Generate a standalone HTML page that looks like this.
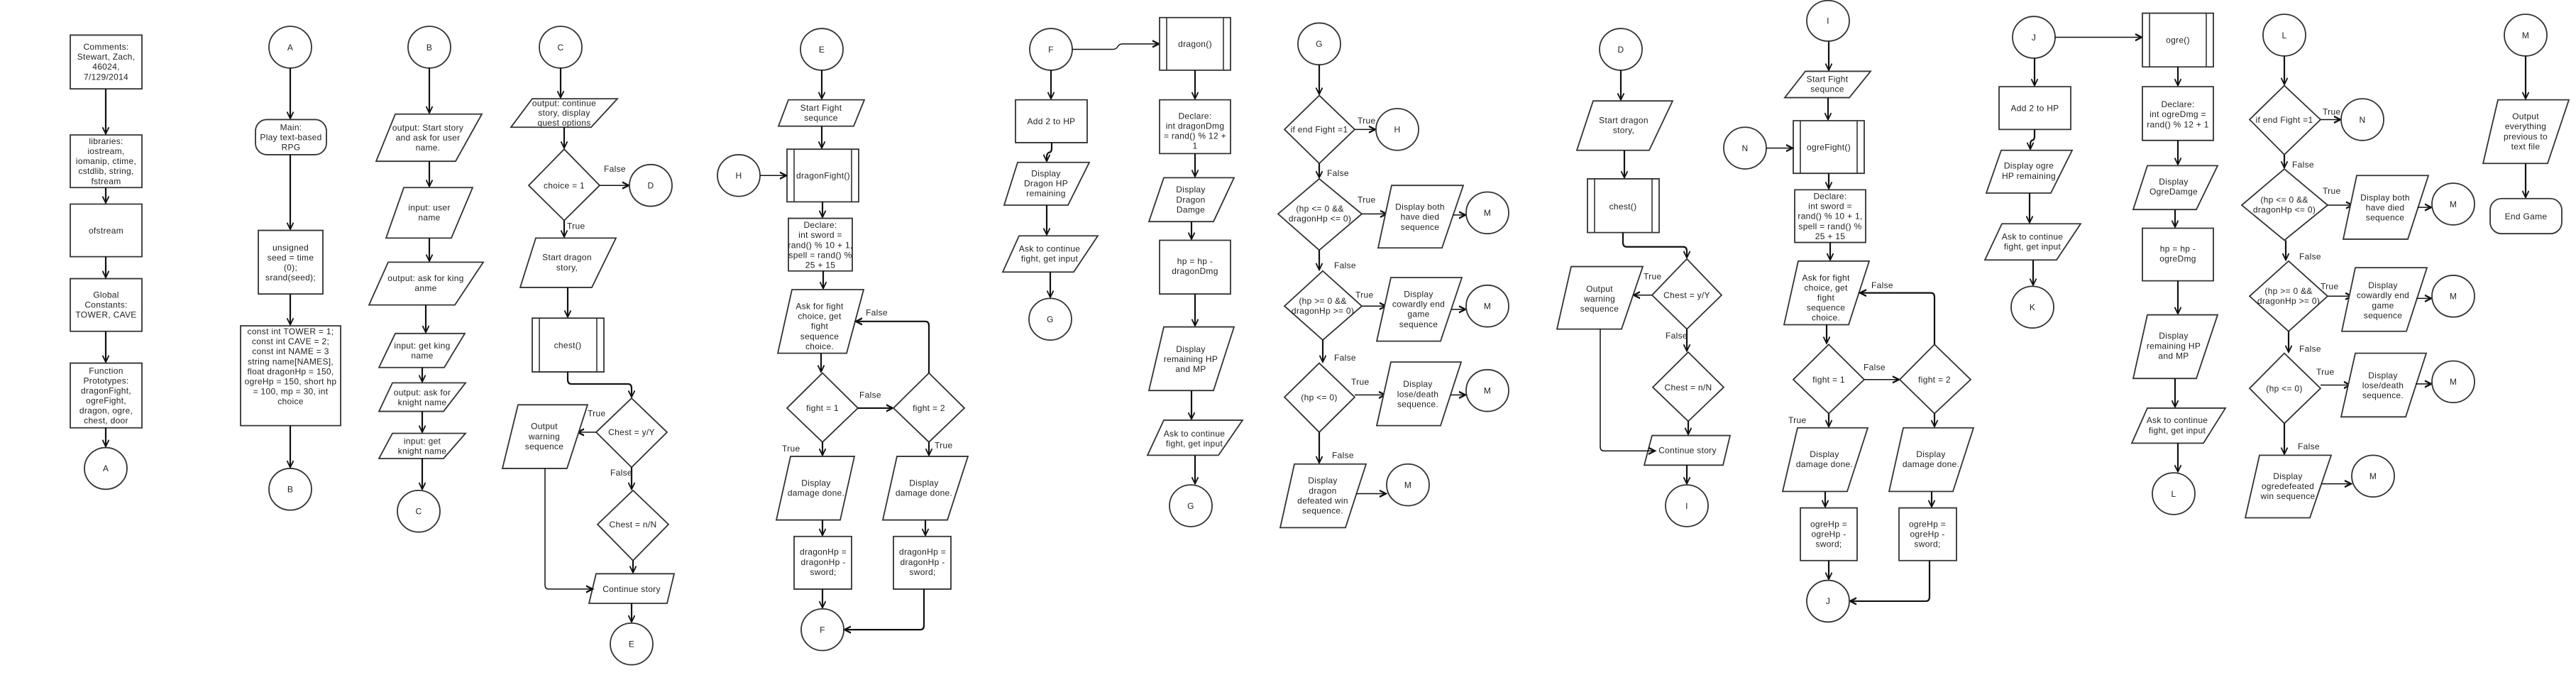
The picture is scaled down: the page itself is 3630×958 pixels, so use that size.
<!DOCTYPE html>
<html><head><meta charset="utf-8"><style>
html,body{margin:0;padding:0;background:#fff;}
svg{display:block;}
text{font-family:"Liberation Sans",Arial,sans-serif;font-size:12px;letter-spacing:0.3px;fill:#222;text-anchor:middle;}
text.l{text-anchor:start;}
.s{fill:#fff;stroke:#333;stroke-width:1.8;vector-effect:non-scaling-stroke;}
.a{fill:none;stroke:#111;stroke-width:2.2;marker-end:url(#av);vector-effect:non-scaling-stroke;}
.h{fill:none;stroke:#111;stroke-width:2.2;marker-end:url(#ah);vector-effect:non-scaling-stroke;}
.b{fill:none;stroke:#111;stroke-width:1.5;marker-end:url(#ah);vector-effect:non-scaling-stroke;}
.n{fill:none;stroke:#333;stroke-width:1.6;vector-effect:non-scaling-stroke;}
.m{fill:none;stroke:#111;stroke-width:1.6;vector-effect:non-scaling-stroke;}
</style></head><body>
<svg width="3630" height="958" viewBox="0 0 3630 958" xmlns="http://www.w3.org/2000/svg">
<defs>
<marker id="av" markerUnits="userSpaceOnUse" markerWidth="20" markerHeight="20" refX="6" refY="0" orient="auto" overflow="visible"><path class="m" d="M0,-4.5 L6,0 L0,4.5"/></marker>
<marker id="ah" markerUnits="userSpaceOnUse" markerWidth="20" markerHeight="20" refX="9" refY="0" orient="auto" overflow="visible"><path class="m" d="M0,-2.9 L9,0 L0,2.9"/></marker>
</defs>
<g transform="scale(1,1.5455)">
<!-- Column 1 -->
<rect class="s" x="99" y="32" width="101" height="49"/>
<rect class="s" x="99" y="123" width="101" height="48"/>
<rect class="s" x="99" y="186" width="101" height="48"/>
<rect class="s" x="99" y="254" width="101" height="48"/>
<rect class="s" x="99" y="331" width="101" height="59"/>
<ellipse class="s" cx="149" cy="427" rx="30" ry="19"/>
<path class="a" d="M149,81 V122"/><path class="a" d="M149,171 V185"/><path class="a" d="M149,234 V253"/><path class="a" d="M149,302 V330"/><path class="a" d="M149,390 V407"/>
<!-- Column 2 -->
<ellipse class="s" cx="409" cy="43" rx="30" ry="19"/>
<path class="a" d="M409,62 V108"/>
<rect class="s" x="360" y="109" width="100" height="32" rx="16" ry="10.5"/>
<path class="a" d="M409,141 V209"/>
<rect class="s" x="364" y="210" width="91" height="58"/>
<path class="a" d="M409,268 V296"/>
<rect class="s" x="339" y="297" width="141" height="91"/>
<path class="a" d="M409,388 V426"/>
<ellipse class="s" cx="409" cy="446" rx="30" ry="19"/>
<!-- Column 3 -->
<ellipse class="s" cx="605" cy="43" rx="30" ry="19"/>
<path class="a" d="M605,62 V103"/>
<polygon class="s" points="557,104 679,104 642,147 530,147"/>
<path class="a" d="M605,147 V170"/>
<polygon class="s" points="569,171 666,171 636,217 544,217"/>
<path class="a" d="M605,217 V238"/>
<polygon class="s" points="547,239 681,239 641,278 520,278"/>
<path class="a" d="M600,278 V303"/>
<polygon class="s" points="557,304 655,304 626,335 534,335"/>
<path class="a" d="M595,335 V348"/>
<polygon class="s" points="553,349 656,349 625,375 534,375"/>
<path class="a" d="M595,375 V394"/>
<polygon class="s" points="553,395 656,395 625,418 534,418"/>
<path class="a" d="M595,418 V446"/>
<ellipse class="s" cx="590" cy="466" rx="30" ry="19"/>
<!-- Column 4 -->
<ellipse class="s" cx="790" cy="43" rx="30" ry="19"/>
<path class="a" d="M790,62 V89"/>
<polygon class="s" points="750,90 870,90 833,116 720,116"/>
<path class="a" d="M795,116 V135"/>
<polygon class="s" points="795,136 845,169 795,201 745,169"/>
<path class="b" d="M845,169 H886"/>
<ellipse class="s" cx="917" cy="169" rx="30" ry="19"/>
<path class="a" d="M795,201 V216"/>
<polygon class="s" points="755,217 868,217 834,262 733,262"/>
<path class="a" d="M800,262 V289"/>
<rect class="s" x="750" y="290" width="101" height="49"/><path class="n" d="M760,290 V339 M841,290 V339"/>
<path class="a" d="M800,339 V346 Q800,350 805,350 H885 Q890,350 890,354 V362"/>
<polygon class="s" points="890,363 940,394 890,426 840,394"/>
<path class="b" d="M840,394 H814"/>
<polygon class="s" points="730,369 828,369 799,427 708,427"/>
<path class="a" d="M890,426 V446"/>
<polygon class="s" points="892,447 942,478 892,511 842,478"/>
<path class="a" d="M892,511 V522"/>
<polygon class="s" points="840,523 950,523 940,550 830,550"/>
<path class="b" d="M768,427 V533 Q768,537 773,537 H835"/>
<path class="a" d="M890,550 V567"/>
<ellipse class="s" cx="890" cy="587" rx="30" ry="19"/>
<!-- Column 5 -->
<ellipse class="s" cx="1158" cy="45" rx="30" ry="19"/>
<path class="a" d="M1158,64 V90"/>
<polygon class="s" points="1111,91 1218,91 1203,115 1097,115"/>
<path class="a" d="M1158,115 V135"/>
<rect class="s" x="1109" y="136" width="101" height="48"/><path class="n" d="M1119,136 V184 M1200,136 V184"/>
<ellipse class="s" cx="1041" cy="160" rx="30" ry="19"/>
<path class="b" d="M1071,160 H1108"/>
<path class="a" d="M1159,184 V198"/>
<rect class="s" x="1111" y="199" width="90" height="48"/>
<path class="a" d="M1160,247 V263"/>
<polygon class="s" points="1116,264 1217,264 1193,322 1096,322"/>
<path class="a" d="M1157,322 V339"/>
<polygon class="s" points="1159,340 1209,372 1159,403 1109,372"/>
<path class="h" d="M1209,372 H1258"/>
<polygon class="s" points="1309,340 1359,372 1309,403 1259,372"/>
<path class="h" d="M1309,340 V297 Q1309,293 1304,293 H1206"/>
<path class="a" d="M1159,403 V415"/>
<path class="a" d="M1309,403 V415"/>
<polygon class="s" points="1114,416 1204,416 1184,474 1094,474"/>
<polygon class="s" points="1264,416 1364,416 1335,474 1244,474"/>
<path class="a" d="M1159,474 V488"/><path class="a" d="M1304,474 V488"/>
<rect class="s" x="1119" y="489" width="81" height="48"/>
<rect class="s" x="1259" y="489" width="81" height="48"/>
<path class="a" d="M1159,537 V554"/>
<path class="h" d="M1302,537 V570 Q1302,574 1297,574 H1190"/>
<ellipse class="s" cx="1159" cy="574" rx="30" ry="19"/>
<!-- Column F -->
<ellipse class="s" cx="1481" cy="45" rx="30" ry="19"/>
<path class="b" d="M1511,45 H1568 Q1573,45 1575,42.5 Q1577,40 1582,40 H1633"/>
<rect class="s" x="1634" y="16" width="100" height="48"/><path class="n" d="M1644,16 V64 M1724,16 V64"/>
<path class="a" d="M1481,64 V90"/>
<rect class="s" x="1431" y="91" width="101" height="39"/>
<path class="a" d="M1482,130 V135 Q1482,139 1478,139 Q1475,140 1475,143 V147"/>
<polygon class="s" points="1434,148 1535,148 1505,187 1415,187"/>
<path class="a" d="M1475,187 V214"/>
<polygon class="s" points="1436,215 1547,215 1513,248 1413,248"/>
<path class="a" d="M1480,248 V271"/>
<ellipse class="s" cx="1480" cy="291" rx="30" ry="19"/>
<!-- Column dragon -->
<path class="a" d="M1684,64 V90"/>
<rect class="s" x="1634" y="91" width="100" height="49"/>
<path class="a" d="M1684,140 V161"/>
<polygon class="s" points="1640,162 1739,162 1710,202 1619,202"/>
<path class="a" d="M1679,202 V218"/>
<rect class="s" x="1634" y="219" width="100" height="49"/>
<path class="a" d="M1684,268 V297"/>
<polygon class="s" points="1640,298 1739,298 1710,356 1619,356"/>
<path class="a" d="M1679,356 V382"/>
<polygon class="s" points="1640,383 1751,383 1717,415 1617,415"/>
<path class="a" d="M1684,415 V441"/>
<ellipse class="s" cx="1678" cy="461" rx="30" ry="19"/>
<!-- Column G -->
<ellipse class="s" cx="1859" cy="40" rx="30" ry="19"/>
<path class="a" d="M1859,59 V86"/>
<polygon class="s" points="1859,87 1909,118 1859,149 1810,118"/>
<path class="b" d="M1909,118 H1938"/>
<ellipse class="s" cx="1969" cy="118" rx="30" ry="19"/>
<path class="a" d="M1859,149 V162"/>
<polygon class="s" points="1859,163 1919,195 1859,228 1801,195"/>
<path class="b" d="M1919,195 H1954"/>
<polygon class="s" points="1961,169 2062,169 2032,226 1942,226"/>
<path class="b" d="M2047,196 H2065"/>
<ellipse class="s" cx="2096" cy="194" rx="30" ry="19"/>
<path class="a" d="M1859,228 V246"/>
<polygon class="s" points="1864,247 1919,279 1864,310 1810,279"/>
<path class="b" d="M1919,279 H1953"/>
<polygon class="s" points="1960,253 2060,253 2030,311 1940,311"/>
<path class="b" d="M2045,282 H2065"/>
<ellipse class="s" cx="2096" cy="279" rx="30" ry="19"/>
<path class="a" d="M1864,310 V330"/>
<polygon class="s" points="1859,331 1909,362 1859,394 1810,362"/>
<path class="b" d="M1909,360 H1952"/>
<polygon class="s" points="1960,330 2059,330 2030,388 1940,388"/>
<path class="b" d="M2044,360 H2065"/>
<ellipse class="s" cx="2096" cy="356" rx="30" ry="19"/>
<path class="a" d="M1859,394 V422"/>
<polygon class="s" points="1824,423 1925,423 1896,481 1804,481"/>
<path class="b" d="M1911,450 H1953"/>
<ellipse class="s" cx="1984" cy="442" rx="30" ry="19"/>
<!-- Column D -->
<ellipse class="s" cx="2284" cy="45" rx="30" ry="19"/>
<path class="a" d="M2284,64 V91"/>
<polygon class="s" points="2245,92 2357,92 2324,137 2222,137"/>
<path class="a" d="M2289,137 V162"/>
<rect class="s" x="2237" y="163" width="101" height="49"/><path class="n" d="M2247,163 V212 M2328,163 V212"/>
<path class="a" d="M2287,212 V221 Q2287,225 2292,225 H2372 Q2377,225 2377,229 V235"/>
<polygon class="s" points="2377,236 2426,269 2377,300 2328,269"/>
<path class="b" d="M2328,269 H2302"/>
<polygon class="s" points="2214,243 2315,243 2285,300 2194,300"/>
<path class="a" d="M2377,300 V320"/>
<polygon class="s" points="2379,321 2429,353 2379,384 2329,353"/>
<path class="a" d="M2379,384 V396"/>
<polygon class="s" points="2328,397 2438,397 2428,424 2317,424"/>
<path class="b" d="M2255,300 V407 Q2255,411 2260,411 H2332"/>
<path class="a" d="M2377,424 V441"/>
<ellipse class="s" cx="2377" cy="461" rx="30" ry="19"/>
<!-- Column I -->
<ellipse class="s" cx="2576" cy="19" rx="30" ry="18.5"/>
<path class="a" d="M2577,38 V64"/>
<polygon class="s" points="2544,65 2636,65 2606,89 2515,89"/>
<path class="a" d="M2576,89 V109"/>
<rect class="s" x="2527" y="110" width="100" height="48"/><path class="n" d="M2537,110 V158 M2617,110 V158"/>
<ellipse class="s" cx="2459" cy="135" rx="30" ry="19"/>
<path class="b" d="M2489,135 H2526"/>
<path class="a" d="M2577,158 V172"/>
<rect class="s" x="2529" y="173" width="100" height="48"/>
<path class="a" d="M2579,221 V237"/>
<polygon class="s" points="2534,238 2634,238 2605,296 2514,296"/>
<path class="a" d="M2574,296 V313"/>
<polygon class="s" points="2577,314 2627,346 2577,377 2527,346"/>
<path class="b" d="M2627,346 H2676"/>
<polygon class="s" points="2726,314 2777,346 2726,377 2677,346"/>
<path class="h" d="M2726,314 V271 Q2726,267 2721,267 H2621"/>
<path class="a" d="M2577,377 V389"/>
<path class="a" d="M2726,377 V389"/>
<polygon class="s" points="2533,390 2632,390 2603,448 2512,448"/>
<polygon class="s" points="2682,390 2781,390 2752,448 2662,448"/>
<path class="a" d="M2572,448 V462"/><path class="a" d="M2722,448 V462"/>
<rect class="s" x="2537" y="463" width="80" height="48"/>
<rect class="s" x="2676" y="463" width="81" height="48"/>
<path class="a" d="M2577,511 V528"/>
<path class="h" d="M2719,511 V544 Q2719,548 2714,548 H2607"/>
<ellipse class="s" cx="2576" cy="548" rx="30" ry="19"/>
<!-- Column J -->
<ellipse class="s" cx="2866" cy="34" rx="30" ry="19"/>
<path class="b" d="M2896,34 H3018"/>
<path class="a" d="M2867,53 V78"/>
<rect class="s" x="2817" y="79" width="101" height="39"/>
<path class="a" d="M2867,118 V124 Q2867,128 2863,128 Q2861,129 2861,132 V136"/>
<polygon class="s" points="2820,137 2920,137 2890,176 2799,176"/>
<path class="a" d="M2860,176 V203"/>
<polygon class="s" points="2821,204 2932,204 2898,237 2797,237"/>
<path class="a" d="M2865,237 V260"/>
<ellipse class="s" cx="2864" cy="280" rx="30" ry="19"/>
<!-- Column ogre -->
<rect class="s" x="3019" y="12" width="100" height="49"/><path class="n" d="M3029,12 V61 M3109,12 V61"/>
<path class="a" d="M3069,61 V78"/>
<rect class="s" x="3019" y="79" width="100" height="49"/>
<path class="a" d="M3069,128 V150"/>
<polygon class="s" points="3026,151 3125,151 3095,191 3006,191"/>
<path class="a" d="M3065,191 V207"/>
<rect class="s" x="3019" y="208" width="100" height="48"/>
<path class="a" d="M3069,256 V286"/>
<polygon class="s" points="3026,287 3125,287 3095,345 3006,345"/>
<path class="a" d="M3065,345 V371"/>
<polygon class="s" points="3026,372 3136,372 3105,404 3004,404"/>
<path class="a" d="M3069,404 V430"/>
<ellipse class="s" cx="3063" cy="450" rx="30" ry="19"/>
<!-- Column L -->
<ellipse class="s" cx="3219" cy="32" rx="30" ry="19"/>
<path class="a" d="M3219,51 V77"/>
<polygon class="s" points="3219,78 3270,109 3219,141 3170,109"/>
<path class="b" d="M3270,109 H3298"/>
<ellipse class="s" cx="3329" cy="109" rx="30" ry="19"/>
<path class="a" d="M3219,141 V153"/>
<polygon class="s" points="3219,154 3280,187 3219,219 3159,187"/>
<path class="b" d="M3280,187 H3315"/>
<polygon class="s" points="3321,160 3422,160 3393,218 3302,218"/>
<path class="b" d="M3407,189 H3426"/>
<ellipse class="s" cx="3457" cy="186" rx="30" ry="19"/>
<path class="a" d="M3221,219 V237"/>
<polygon class="s" points="3225,238 3280,270 3225,302 3170,270"/>
<path class="b" d="M3280,270 H3314"/>
<polygon class="s" points="3319,244 3420,244 3391,302 3300,302"/>
<path class="b" d="M3405,272 H3426"/>
<ellipse class="s" cx="3457" cy="270" rx="30" ry="19"/>
<path class="a" d="M3225,302 V321"/>
<polygon class="s" points="3219,322 3270,354 3219,386 3170,354"/>
<path class="b" d="M3270,351 H3312"/>
<polygon class="s" points="3319,322 3419,322 3390,380 3299,380"/>
<path class="b" d="M3404,350 H3426"/>
<ellipse class="s" cx="3457" cy="348" rx="30" ry="19"/>
<path class="a" d="M3219,386 V414"/>
<polygon class="s" points="3184,415 3285,415 3255,472 3164,472"/>
<path class="b" d="M3271,441 H3313"/>
<ellipse class="s" cx="3344" cy="434" rx="30" ry="19"/>
<!-- Column M -->
<ellipse class="s" cx="3559" cy="32" rx="30" ry="19"/>
<path class="a" d="M3559,51 V90"/>
<polygon class="s" points="3520,91 3620,91 3590,149 3499,149"/>
<path class="a" d="M3559,149 V180"/>
<rect class="s" x="3509" y="181" width="101" height="32" rx="16" ry="10.5"/>
</g>

<!-- TEXT -->
<text x="149.5" y="70">Comments:<tspan x="149.5" dy="14.1">Stewart, Zach,</tspan><tspan x="149.5" dy="14.1">46024,</tspan><tspan x="149.5" dy="14.1">7/129/2014</tspan></text>
<text x="149.5" y="202.9">libraries:<tspan x="149.5" dy="14.1">iostream,</tspan><tspan x="149.5" dy="14.1">iomanip, ctime,</tspan><tspan x="149.5" dy="14.1">cstdlib, string,</tspan><tspan x="149.5" dy="14.1">fstream</tspan></text>
<text x="149.5" y="328.9">ofstream</text>
<text x="149.5" y="419.3">Global<tspan x="149.5" dy="14.1">Constants:</tspan><tspan x="149.5" dy="14.1">TOWER, CAVE</tspan></text>
<text x="149.5" y="526.6">Function<tspan x="149.5" dy="14">Prototypes:</tspan><tspan x="149.5" dy="14">dragonFight,</tspan><tspan x="149.5" dy="14">ogreFight,</tspan><tspan x="149.5" dy="14">dragon, ogre,</tspan><tspan x="149.5" dy="14">chest, door</tspan></text>
<text x="149" y="664.2">A</text>

<text x="409" y="70.8">A</text>
<text x="410" y="183.3">Main:<tspan x="410" dy="14.1">Play text-based</tspan><tspan x="410" dy="14.1">RPG</tspan></text>
<text x="409.5" y="352.8">unsigned<tspan x="409.5" dy="14.1">seed = time</tspan><tspan x="409.5" dy="14.1">(0);</tspan><tspan x="409.5" dy="14.1">srand(seed);</tspan></text>
<text x="409.5" y="471">const int TOWER = 1;<tspan x="409.5" dy="14.1">const int CAVE = 2;</tspan><tspan x="409.5" dy="14.1">const int NAME = 3</tspan><tspan x="409.5" dy="14.1">string name[NAMES],</tspan><tspan x="409.5" dy="14.1">float dragonHp = 150,</tspan><tspan x="409.5" dy="14.1">ogreHp = 150, short hp</tspan><tspan x="409.5" dy="14.1">= 100, mp = 30, int</tspan><tspan x="409.5" dy="14.1">choice</tspan></text>
<text x="409" y="693.6">B</text>

<text x="605" y="70.8">B</text>
<text x="603" y="184">output: Start story<tspan x="603" dy="14.1">and ask for user</tspan><tspan x="603" dy="14.1">name.</tspan></text>
<text x="605" y="296.4">input: user<tspan x="605" dy="14.1">name</tspan></text>
<text x="600" y="396.1">output: ask for king<tspan x="600" dy="14.1">anme</tspan></text>
<text x="595" y="491.1">input: get king<tspan x="595" dy="14.1">name</tspan></text>
<text x="595" y="556.8">output: ask for<tspan x="595" dy="14.1">knight name</tspan></text>
<text x="595" y="625.6">input: get<tspan x="595" dy="14.1">knight name</tspan></text>
<text x="590" y="724.5">C</text>

<text x="790" y="70.8">C</text>
<text x="795" y="149.6">output: continue<tspan x="795" dy="13.6">story, display</tspan><tspan x="795" dy="13.6">quest options</tspan></text>
<text x="795" y="265.5">choice = 1</text>
<text class="l" x="851" y="242">False</text>
<text x="917" y="265.5">D</text>
<text class="l" x="799" y="322.4">True</text>
<text x="799" y="366.7">Start dragon<tspan x="799" dy="14.1">story,</tspan></text>
<text x="800" y="490.4">chest()</text>
<text x="890" y="613.2">Chest = y/Y</text>
<text class="l" x="828" y="586.7">True</text>
<text x="767" y="604.7">Output<tspan x="767" dy="14.1">warning</tspan><tspan x="767" dy="14.1">sequence</tspan></text>
<text class="l" x="860" y="670.1">False</text>
<text x="892" y="743">Chest = n/N</text>
<text x="890" y="834.2">Continue story</text>
<text x="890" y="911.5">E</text>

<text x="1158" y="73.8">E</text>
<text x="1157" y="155.8">Start Fight<tspan x="1157" dy="14.1">sequnce</tspan></text>
<text x="1160" y="251.6">dragonFight()</text>
<text x="1041" y="251.6">H</text>
<text x="1156" y="321.1">Declare:<tspan x="1156" dy="14.1">int sword =</tspan><tspan x="1156" dy="14.1">rand() % 10 + 1,</tspan><tspan x="1156" dy="14.1">spell = rand() %</tspan><tspan x="1156" dy="14.1">25 + 15</tspan></text>
<text x="1155" y="435.5">Ask for fight<tspan x="1155" dy="14.1">choice, get</tspan><tspan x="1155" dy="14.1">fight</tspan><tspan x="1155" dy="14.1">sequence</tspan><tspan x="1155" dy="14.1">choice.</tspan></text>
<text x="1159" y="579.2">fight = 1</text>
<text class="l" x="1211" y="560.4">False</text>
<text x="1309" y="579.2">fight = 2</text>
<text class="l" x="1220" y="444.5">False</text>
<text class="l" x="1102" y="636.1">True</text>
<text class="l" x="1317" y="631.5">True</text>
<text x="1150" y="684.3">Display<tspan x="1150" dy="14.1">damage done.</tspan></text>
<text x="1302" y="684.3">Display<tspan x="1302" dy="14.1">damage done.</tspan></text>
<text x="1160" y="781.7">dragonHp =<tspan x="1160" dy="14.1">dragonHp -</tspan><tspan x="1160" dy="14.1">sword;</tspan></text>
<text x="1300" y="781.7">dragonHp =<tspan x="1300" dy="14.1">dragonHp -</tspan><tspan x="1300" dy="14.1">sword;</tspan></text>
<text x="1159" y="891.4">F</text>

<text x="1481" y="73.8">F</text>
<text x="1684" y="66.1">dragon()</text>
<text x="1481.5" y="175.1">Add 2 to HP</text>
<text x="1474" y="248.5">Display<tspan x="1474" dy="14.1">Dragon HP</tspan><tspan x="1474" dy="14.1">remaining</tspan></text>
<text x="1479" y="354.4">Ask to continue<tspan x="1479" dy="14.1">fight, get input</tspan></text>
<text x="1480" y="454">G</text>

<text x="1684" y="167.3">Declare:<tspan x="1684" dy="14.1">int dragonDmg</tspan><tspan x="1684" dy="14.1">= rand() % 12 +</tspan><tspan x="1684" dy="14.1">1</tspan></text>
<text x="1678" y="271.2">Display<tspan x="1678" dy="14.1">Dragon</tspan><tspan x="1678" dy="14.1">Damge</tspan></text>
<text x="1684" y="372.1">hp = hp -<tspan x="1684" dy="14.1">dragonDmg</tspan></text>
<text x="1678" y="495.8">Display<tspan x="1678" dy="14.1">remaining HP</tspan><tspan x="1678" dy="14.1">and MP</tspan></text>
<text x="1683" y="614.8">Ask to continue<tspan x="1683" dy="14.1">fight, get input</tspan></text>
<text x="1678" y="716.8">G</text>

<text x="1859" y="66.1">G</text>
<text x="1859" y="186.7">if  end Fight =1</text>
<text class="l" x="1913" y="174">True</text>
<text x="1969" y="186.7">H</text>
<text class="l" x="1870" y="248.2">False</text>
<text x="1860" y="297.9">(hp &lt;= 0 &amp;&amp;<tspan x="1860" dy="14.1">dragonHp &lt;= 0)</tspan></text>
<text class="l" x="1913" y="285.3">True</text>
<text x="2001" y="295.6">Display both<tspan x="2001" dy="14.1">have died</tspan><tspan x="2001" dy="14.1">sequence</tspan></text>
<text x="2096" y="304.1">M</text>
<text class="l" x="1880" y="378">False</text>
<text x="1864" y="427.8">(hp &gt;= 0 &amp;&amp;<tspan x="1864" dy="14.1">dragonHp &gt;= 0)</tspan></text>
<text class="l" x="1910" y="419.7">True</text>
<text x="1999" y="418.5">Display<tspan x="1999" dy="14.1">cowardly end</tspan><tspan x="1999" dy="14.1">game</tspan><tspan x="1999" dy="14.1">sequence</tspan></text>
<text x="2096" y="435.5">M</text>
<text class="l" x="1880" y="507.8">False</text>
<text x="1859" y="563.8">(hp &lt;= 0)</text>
<text class="l" x="1904" y="541.8">True</text>
<text x="1998" y="545.2">Display<tspan x="1998" dy="14.1">lose/death</tspan><tspan x="1998" dy="14.1">sequence.</tspan></text>
<text x="2096" y="554.5">M</text>
<text class="l" x="1877" y="645.4">False</text>
<text x="1864" y="681.2">Display<tspan x="1864" dy="14.1">dragon</tspan><tspan x="1864" dy="14.1">defeated win</tspan><tspan x="1864" dy="14.1">sequence.</tspan></text>
<text x="1984" y="687.4">M</text>

<text x="2284" y="73.8">D</text>
<text x="2288" y="173.5">Start dragon<tspan x="2288" dy="14.1">story,</tspan></text>
<text x="2287" y="294.9">chest()</text>
<text x="2377" y="420">Chest = y/Y</text>
<text class="l" x="2316" y="393.5">True</text>
<text x="2254" y="410.8">Output<tspan x="2254" dy="14.1">warning</tspan><tspan x="2254" dy="14.1">sequence</tspan></text>
<text class="l" x="2347" y="476.9">False</text>
<text x="2379" y="549.9">Chest = n/N</text>
<text x="2378" y="638.7">Continue story</text>
<text x="2377" y="716.8">I</text>

<text x="2576" y="33.7">I</text>
<text x="2575" y="115.6">Start Fight<tspan x="2575" dy="14.1">sequnce</tspan></text>
<text x="2577" y="211.4">ogreFight()</text>
<text x="2459" y="212.9">N</text>
<text x="2579" y="280.5">Declare:<tspan x="2579" dy="14.1">int sword =</tspan><tspan x="2579" dy="14.1">rand() % 10 + 1,</tspan><tspan x="2579" dy="14.1">spell = rand() %</tspan><tspan x="2579" dy="14.1">25 + 15</tspan></text>
<text x="2573" y="395.3">Ask for fight<tspan x="2573" dy="14.1">choice, get</tspan><tspan x="2573" dy="14.1">fight</tspan><tspan x="2573" dy="14.1">sequence</tspan><tspan x="2573" dy="14.1">choice.</tspan></text>
<text x="2577" y="539">fight = 1</text>
<text class="l" x="2626" y="521.7">False</text>
<text x="2726" y="539">fight = 2</text>
<text class="l" x="2637" y="405.8">False</text>
<text class="l" x="2520" y="595.9">True</text>
<text x="2571" y="644.1">Display<tspan x="2571" dy="14.1">damage done.</tspan></text>
<text x="2721" y="644.1">Display<tspan x="2721" dy="14.1">damage done.</tspan></text>
<text x="2577" y="742.3">ogreHp =<tspan x="2577" dy="14.1">ogreHp -</tspan><tspan x="2577" dy="14.1">sword;</tspan></text>
<text x="2716" y="742.3">ogreHp =<tspan x="2716" dy="14.1">ogreHp -</tspan><tspan x="2716" dy="14.1">sword;</tspan></text>
<text x="2576" y="851.2">J</text>

<text x="2866" y="56.8">J</text>
<text x="2867.5" y="156.5">Add 2 to HP</text>
<text x="2859" y="237.7">Display ogre<tspan x="2859" dy="14.1">HP remaining</tspan></text>
<text x="2864" y="337.4">Ask to continue<tspan x="2864" dy="14.1">fight, get input</tspan></text>
<text x="2864" y="437">K</text>

<text x="3069" y="60.7">ogre()</text>
<text x="3069" y="151.1">Declare:<tspan x="3069" dy="14.1">int ogreDmg =</tspan><tspan x="3069" dy="14.1">rand() % 12 + 1</tspan></text>
<text x="3063" y="260.1">Display<tspan x="3063" dy="14.1">OgreDamge</tspan></text>
<text x="3069" y="354.4">hp = hp -<tspan x="3069" dy="14.1">ogreDmg</tspan></text>
<text x="3063" y="477.2">Display<tspan x="3063" dy="14.1">remaining HP</tspan><tspan x="3063" dy="14.1">and MP</tspan></text>
<text x="3068" y="596.2">Ask to continue<tspan x="3068" dy="14.1">fight, get input</tspan></text>
<text x="3063" y="699.8">L</text>

<text x="3219" y="53.8">L</text>
<text x="3219" y="172.8">if  end Fight =1</text>
<text class="l" x="3273" y="161.6">True</text>
<text x="3329" y="172.8">N</text>
<text class="l" x="3230" y="235.8">False</text>
<text x="3219" y="285.6">(hp &lt;= 0 &amp;&amp;<tspan x="3219" dy="14.1">dragonHp &lt;= 0)</tspan></text>
<text class="l" x="3273" y="272.9">True</text>
<text x="3361" y="282.5">Display both<tspan x="3361" dy="14.1">have died</tspan><tspan x="3361" dy="14.1">sequence</tspan></text>
<text x="3457" y="291.8">M</text>
<text class="l" x="3240" y="365.6">False</text>
<text x="3225" y="413.9">(hp &gt;= 0 &amp;&amp;<tspan x="3225" dy="14.1">dragonHp &gt;= 0)</tspan></text>
<text class="l" x="3270" y="407.4">True</text>
<text x="3358" y="406.1">Display<tspan x="3358" dy="14.1">cowardly end</tspan><tspan x="3358" dy="14.1">game</tspan><tspan x="3358" dy="14.1">sequence</tspan></text>
<text x="3457" y="421.6">M</text>
<text class="l" x="3240" y="495.5">False</text>
<text x="3219" y="551.4">(hp &lt;= 0)</text>
<text class="l" x="3264" y="527.9">True</text>
<text x="3358" y="532.9">Display<tspan x="3358" dy="14.1">lose/death</tspan><tspan x="3358" dy="14.1">sequence.</tspan></text>
<text x="3457" y="542.1">M</text>
<text class="l" x="3238" y="633">False</text>
<text x="3224" y="675">Display<tspan x="3224" dy="14.1">ogredefeated</tspan><tspan x="3224" dy="14.1">win sequence</tspan></text>
<text x="3344" y="675">M</text>

<text x="3559" y="53.8">M</text>
<text x="3559" y="168.1">Output<tspan x="3559" dy="14.1">everything</tspan><tspan x="3559" dy="14.1">previous to</tspan><tspan x="3559" dy="14.1">text file</tspan></text>
<text x="3559.5" y="308.8">End Game</text>
</svg>
</body></html>
